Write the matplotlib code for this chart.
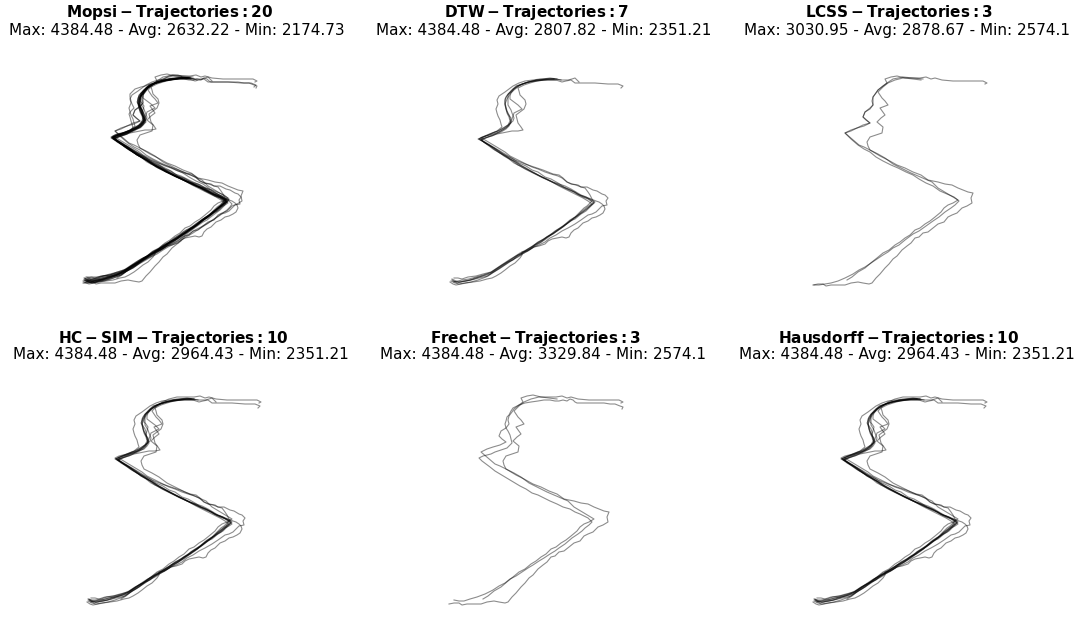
import matplotlib.pyplot as plt

# GPS trajectories (local x/y, same frame for every panel)
T01 = [(2, 5), (7, 2), (14, 4), (20, 5), (25, 7), (33, 9), (40, 11), (46, 15), (52, 19), (58, 23), (63, 25),
       (68, 30), (74, 33), (80, 36), (85, 40), (91, 43), (97, 48), (103, 51), (108, 55), (114, 59), (120, 64),
       (125, 66), (131, 71), (136, 74), (141, 79), (145, 83), (140, 86), (134, 88), (127, 91), (121, 95),
       (114, 98), (108, 102), (101, 106), (95, 108), (88, 113), (82, 115), (76, 119), (69, 122), (63, 126),
       (57, 129), (50, 133), (44, 137), (37, 141), (29, 146), (36, 149), (43, 151), (49, 153), (56, 157),
       (61, 162), (61, 167), (58, 171), (56, 176), (55, 181), (57, 186), (60, 191), (64, 196), (70, 200),
       (78, 203), (87, 205), (96, 205), (106, 205), (112, 203), (116, 204), (121, 205), (125, 202), (133, 202),
       (145, 202), (158, 201), (168, 201), (173, 199), (171, 197)]
T02 = [(0, 1), (5, 2), (10, 2), (13, 0), (18, 1), (25, 1), (32, 1), (38, 3), (45, 4), (50, 3), (56, 2), (59, 3),
       (63, 8), (67, 12), (72, 18), (76, 22), (80, 27), (84, 30), (89, 36), (94, 40), (98, 43), (102, 48),
       (106, 49), (110, 53), (115, 54), (120, 58), (125, 62), (131, 64), (135, 69), (139, 71), (144, 73),
       (149, 78), (154, 80), (159, 83), (158, 88), (160, 93), (155, 94), (150, 96), (145, 98), (139, 101),
       (132, 102), (125, 104), (115, 106), (108, 111), (100, 114), (92, 118), (84, 121), (75, 126), (67, 130),
       (57, 136), (51, 139), (46, 141), (39, 147), (32, 153), (38, 156), (44, 158), (51, 160), (57, 163),
       (53, 166), (50, 169), (52, 174), (57, 177), (60, 181), (59, 185), (60, 189), (63, 193), (65, 196),
       (70, 200), (74, 203), (72, 207), (78, 209), (84, 210), (92, 208), (100, 207), (108, 206)]
T03 = [(34, 6), (39, 9), (45, 14), (52, 18), (59, 24), (64, 28), (70, 33), (76, 36), (82, 41), (87, 44),
       (92, 48), (97, 51), (102, 56), (107, 58), (112, 62), (117, 65), (122, 69), (128, 74), (131, 78),
       (135, 81), (140, 83), (145, 86), (140, 89), (135, 92), (130, 95), (125, 98), (119, 104), (112, 107),
       (105, 110), (98, 113), (92, 116), (86, 119), (80, 122), (76, 125), (72, 128), (65, 132), (57, 136),
       (55, 140), (54, 144), (57, 149), (63, 151), (69, 153), (70, 159), (64, 164), (68, 168), (72, 171),
       (67, 178), (75, 181), (72, 185), (69, 188), (65, 194), (70, 199), (75, 203), (82, 206), (90, 208),
       (98, 208), (107, 208), (113, 209), (118, 207), (122, 208), (129, 206), (140, 205), (150, 205),
       (160, 205), (170, 205), (174, 203), (172, 202)]
T04 = [(1, 1), (6, 1), (12, 2), (18, 3), (25, 5), (32, 8), (40, 12), (46, 16), (52, 19), (58, 23), (64, 27),
       (70, 31), (75, 34), (80, 38), (86, 41), (92, 46), (100, 52), (106, 55), (113, 60), (120, 65), (126, 69),
       (132, 74), (138, 78), (142, 81), (146, 85), (141, 89), (134, 92), (127, 95), (120, 100), (113, 103),
       (106, 107), (100, 111), (93, 114), (85, 118), (78, 121), (70, 125), (63, 129), (57, 134), (51, 137),
       (45, 141), (38, 147), (32, 153), (38, 155), (44, 158), (50, 161), (57, 163), (50, 169), (52, 174),
       (57, 178), (60, 181), (60, 189), (65, 196), (70, 200), (74, 203), (80, 207), (90, 209), (100, 208),
       (110, 207)]
T05 = [(3, 7), (8, 5), (15, 6), (21, 8), (27, 9), (34, 12), (41, 14), (47, 18), (53, 22), (58, 25), (64, 28),
       (69, 32), (75, 35), (80, 39), (86, 42), (91, 46), (97, 49), (103, 54), (109, 57), (114, 61), (120, 65),
       (126, 69), (131, 73), (136, 77), (140, 80), (143, 84), (138, 87), (131, 90), (125, 92), (118, 96),
       (111, 99), (104, 103), (98, 106), (91, 109), (85, 113), (78, 116), (72, 119), (66, 122), (60, 126),
       (54, 129), (47, 134), (41, 138), (35, 142), (30, 147), (36, 149), (41, 150), (47, 152), (53, 155),
       (58, 158), (62, 162), (63, 166), (60, 172), (58, 177), (57, 182), (57, 188), (61, 192), (64, 196),
       (71, 200), (79, 203), (88, 205), (98, 206), (106, 206)]
T06 = [(1, 4), (5, 2), (9, 1), (15, 2), (21, 3), (28, 5), (36, 8), (42, 12), (49, 16), (55, 20), (61, 24),
       (67, 28), (72, 31), (78, 34), (84, 38), (89, 40), (95, 43), (100, 47), (106, 50), (112, 54), (118, 57),
       (125, 61), (131, 65), (138, 70), (142, 71), (146, 73), (149, 76), (152, 79), (157, 80), (156, 84),
       (158, 87), (155, 90), (152, 91), (147, 94), (143, 95), (137, 98), (131, 98), (126, 100), (121, 101),
       (117, 103), (112, 107), (108, 109), (101, 111), (95, 113), (88, 116), (82, 118), (76, 121), (70, 124),
       (64, 127), (60, 129), (55, 133), (50, 136), (45, 139), (40, 142), (35, 145), (31, 147), (36, 149),
       (40, 151), (45, 153), (48, 154), (53, 157), (58, 160), (63, 164), (64, 167), (62, 172), (61, 175),
       (58, 180), (58, 185), (58, 190), (61, 194), (63, 196), (68, 199), (72, 201), (79, 203), (86, 205),
       (93, 206), (100, 207), (107, 206)]
T07 = [(4, 3), (8, 4), (12, 5), (19, 6), (26, 8), (33, 10), (42, 13), (48, 17), (54, 21), (60, 25), (66, 29),
       (72, 32), (78, 36), (83, 39), (88, 43), (94, 46), (100, 50), (105, 54), (110, 57), (116, 61), (121, 65),
       (127, 69), (131, 73), (136, 77), (140, 80), (142, 81), (138, 84), (133, 87), (127, 90), (121, 93),
       (115, 96), (109, 99), (102, 103), (96, 106), (90, 109), (83, 113), (77, 116), (72, 119), (66, 123),
       (60, 126), (56, 129), (50, 132), (45, 136), (39, 140), (34, 143), (28, 146), (33, 148), (37, 150),
       (42, 152), (47, 154), (52, 158), (51, 161), (50, 165), (48, 169), (47, 172), (46, 176), (48, 181),
       (47, 185), (49, 189), (52, 191), (55, 193), (59, 196), (63, 199), (69, 202), (75, 204), (83, 205),
       (90, 206), (97, 206), (104, 206)]
T08 = [(2, 6), (6, 4), (9, 3), (15, 4), (21, 5), (29, 7), (38, 9), (44, 13), (50, 17), (56, 21), (62, 25),
       (68, 28), (74, 32), (79, 35), (85, 39), (90, 42), (96, 46), (101, 50), (104, 52), (110, 56), (115, 60),
       (118, 62), (124, 67), (131, 72), (135, 75), (139, 78), (144, 82), (141, 84), (138, 86), (133, 88),
       (129, 90), (125, 93), (120, 95), (113, 98), (106, 101), (100, 104), (93, 107), (87, 110), (81, 113),
       (75, 116), (70, 119), (64, 122), (59, 126), (54, 129), (50, 132), (45, 135), (40, 139), (35, 142),
       (31, 145), (36, 147), (41, 149), (47, 151), (52, 152), (57, 153), (62, 154), (68, 154), (73, 155),
       (71, 158), (68, 162), (67, 166), (66, 170), (70, 173), (74, 176), (76, 181), (75, 185), (72, 188),
       (70, 190), (69, 194), (68, 197), (74, 200), (80, 202), (87, 204), (95, 205), (100, 206), (105, 206),
       (112, 205), (118, 205), (122, 206), (125, 207), (129, 203)]
T09 = [(5, 5), (10, 4), (15, 4), (21, 6), (28, 8), (36, 11), (44, 15), (50, 19), (56, 22), (61, 26), (67, 29),
       (73, 33), (79, 37), (84, 40), (90, 44), (95, 47), (101, 51), (106, 54), (110, 57), (116, 61), (123, 67),
       (129, 71), (133, 74), (136, 77), (140, 80), (143, 83), (139, 87), (135, 89), (131, 91), (126, 93),
       (121, 96), (114, 98), (108, 101), (101, 104), (95, 107), (89, 110), (83, 112), (77, 116), (71, 119),
       (66, 122), (61, 125), (56, 128), (51, 131), (46, 134), (41, 138), (37, 141), (33, 144), (30, 147),
       (34, 149), (38, 150), (42, 151), (46, 153), (52, 155), (58, 157), (63, 162), (62, 166), (61, 170),
       (59, 174), (57, 177), (56, 181), (57, 184), (58, 188), (60, 190), (62, 194), (64, 197), (70, 200),
       (76, 202), (82, 203), (89, 204), (95, 205), (101, 205), (106, 204), (110, 204), (114, 205), (118, 204),
       (121, 206), (124, 205), (126, 203), (128, 202), (134, 202), (140, 202), (147, 202), (155, 202),
       (161, 201), (166, 201), (171, 199), (174, 198), (173, 196)]
T10 = [(0, 3), (3, 1), (6, 0), (11, 1), (16, 2), (23, 3), (30, 4), (37, 6), (42, 7), (46, 9), (51, 12), (55, 15),
       (60, 19), (65, 22), (70, 27), (72, 30), (72, 33), (77, 34), (84, 38), (89, 39), (95, 41), (98, 44),
       (102, 46), (107, 47), (112, 48), (116, 47), (119, 48), (121, 52), (124, 55), (128, 57), (133, 62),
       (138, 64), (142, 67), (146, 68), (150, 70), (153, 72), (155, 76), (154, 79), (152, 81), (149, 83),
       (146, 84), (141, 86), (136, 88), (131, 90), (126, 93), (121, 96), (115, 99), (109, 101), (103, 103),
       (97, 106), (92, 108), (86, 111), (80, 114), (74, 117), (68, 120), (63, 124), (58, 127), (53, 130),
       (48, 133), (43, 136), (39, 139), (35, 142), (31, 145), (35, 147), (38, 148), (42, 149), (46, 151),
       (51, 153), (56, 156), (59, 159), (61, 163), (60, 167), (59, 170), (57, 174), (56, 178), (55, 182),
       (55, 186), (57, 189), (59, 192), (62, 195), (66, 199), (72, 201), (78, 203), (85, 204), (92, 205),
       (98, 206), (104, 206)]
T11 = [(3, 4), (7, 3), (11, 3), (17, 4), (24, 6), (32, 9), (40, 12), (46, 16), (52, 20), (59, 24), (65, 28),
       (71, 31), (77, 35), (82, 38), (88, 42), (93, 45), (99, 49), (104, 52), (107, 54), (113, 58), (118, 62),
       (121, 64), (126, 68), (130, 71), (133, 73), (137, 76), (140, 79), (144, 83), (142, 86), (140, 90),
       (138, 93), (135, 97), (131, 98), (128, 100), (122, 101), (117, 103), (113, 107), (109, 110), (103, 111),
       (98, 113), (93, 115), (87, 117), (81, 119), (75, 121), (70, 123), (65, 125), (60, 128), (55, 131),
       (50, 134), (45, 137), (40, 140), (35, 143), (29, 146), (32, 148), (35, 149), (39, 150), (43, 152),
       (48, 154), (54, 157), (58, 160), (60, 164), (59, 168), (57, 172), (56, 176), (55, 180), (55, 184),
       (56, 188), (58, 191), (61, 193), (64, 196), (67, 199), (73, 201), (80, 203), (87, 204), (94, 205),
       (100, 205), (106, 205)]
T12 = [(2, 4), (6, 2), (10, 1), (16, 3), (22, 5), (30, 8), (38, 11), (44, 14), (50, 18), (57, 23), (62, 26),
       (68, 30), (75, 34), (80, 37), (86, 41), (92, 44), (98, 48), (103, 52), (106, 54), (112, 58), (119, 64),
       (124, 67), (128, 70), (132, 73), (136, 77), (140, 80), (143, 82), (137, 86), (132, 88), (127, 91),
       (122, 93), (117, 96), (110, 99), (104, 102), (98, 105), (91, 108), (85, 111), (79, 114), (73, 117),
       (68, 121), (63, 124), (58, 127), (53, 130), (48, 134), (43, 137), (38, 140), (34, 143), (30, 146),
       (33, 147), (36, 148), (40, 149), (44, 150), (47, 153), (50, 156), (49, 160), (48, 163), (47, 167),
       (46, 170), (48, 173), (51, 176), (49, 180), (48, 183), (47, 187), (47, 190), (50, 193), (52, 195),
       (55, 196), (58, 197), (62, 198), (67, 200), (73, 202), (79, 204), (87, 205), (95, 206), (101, 206),
       (106, 206)]
T13 = [(4, 7), (8, 7), (12, 6), (18, 8), (26, 9), (33, 11), (41, 13), (47, 17), (53, 21), (59, 25), (64, 28),
       (70, 32), (76, 35), (81, 38), (87, 42), (92, 45), (98, 49), (103, 52), (107, 55), (113, 59), (120, 65),
       (125, 68), (128, 71), (131, 74), (134, 77), (137, 79), (142, 84), (139, 86), (136, 88), (130, 90),
       (124, 93), (119, 95), (113, 98), (107, 101), (100, 104), (94, 107), (88, 110), (82, 113), (76, 117),
       (70, 120), (64, 124), (59, 127), (54, 130), (49, 134), (44, 137), (39, 140), (34, 143), (31, 146),
       (35, 147), (40, 149), (45, 151), (49, 153), (54, 156), (58, 159), (60, 162), (62, 166), (63, 169),
       (64, 172), (68, 174), (72, 176), (70, 178), (68, 180), (64, 183), (60, 186), (60, 189), (61, 192),
       (64, 195), (69, 199), (75, 202), (82, 204), (89, 205), (96, 206), (101, 206), (106, 206), (111, 205)]
T14 = [(1, 6), (4, 5), (8, 5), (14, 6), (20, 8), (27, 9), (35, 11), (42, 14), (48, 18), (54, 21), (60, 24),
       (66, 28), (71, 31), (77, 34), (82, 37), (88, 41), (93, 44), (98, 47), (102, 50), (108, 54), (113, 58),
       (116, 60), (121, 64), (125, 67), (129, 70), (134, 73), (138, 77), (142, 79), (145, 81), (143, 83),
       (141, 85), (137, 87), (133, 89), (128, 91), (123, 94), (117, 97), (110, 100), (103, 103), (97, 106),
       (91, 109), (85, 112), (79, 115), (73, 118), (68, 121), (62, 125), (57, 128), (52, 131), (47, 134),
       (42, 138), (37, 141), (33, 144), (28, 147), (32, 149), (36, 150), (41, 151), (46, 152), (51, 154),
       (57, 156), (60, 159), (62, 162), (61, 166), (59, 169), (59, 173), (58, 176), (56, 179), (54, 182),
       (56, 186), (58, 189), (60, 192), (63, 195), (67, 198), (73, 201), (79, 203), (86, 204), (93, 205),
       (100, 206), (107, 206)]
T15 = [(3, 2), (8, 2), (13, 3), (20, 4), (27, 6), (35, 9), (44, 13), (50, 16), (56, 20), (63, 24), (68, 27),
       (74, 30), (80, 34), (85, 37), (91, 40), (97, 43), (103, 47), (110, 51), (116, 55), (124, 60), (130, 64),
       (136, 68), (140, 71), (144, 74), (147, 77), (149, 80), (147, 82), (145, 84), (141, 86), (138, 88),
       (133, 91), (128, 94), (122, 96), (117, 99), (110, 102), (104, 105), (98, 108), (92, 110), (86, 114),
       (80, 117), (75, 120), (69, 123), (64, 126), (59, 129), (54, 132), (49, 135), (44, 138), (39, 141),
       (34, 144), (30, 147), (35, 149), (39, 150), (43, 152), (47, 154), (52, 157), (56, 159), (59, 163),
       (60, 167), (59, 171), (58, 174), (57, 178), (56, 183), (57, 187), (60, 190), (63, 194), (66, 197),
       (71, 200), (78, 202), (85, 204), (92, 205), (99, 206), (105, 206)]
T16 = [(2, 5), (5, 4), (9, 4), (15, 5), (21, 7), (28, 8), (36, 10), (43, 14), (49, 18), (56, 22), (61, 26),
       (67, 29), (73, 33), (78, 36), (84, 40), (90, 43), (95, 46), (101, 50), (104, 53), (110, 56), (118, 63),
       (123, 66), (127, 69), (130, 72), (134, 75), (139, 79), (141, 82), (143, 84), (139, 86), (135, 88),
       (130, 90), (124, 93), (119, 96), (113, 98), (107, 101), (100, 104), (94, 107), (88, 110), (82, 113),
       (76, 116), (71, 119), (65, 123), (60, 126), (54, 129), (49, 133), (44, 136), (39, 139), (34, 142),
       (30, 145), (34, 147), (38, 149), (41, 150), (44, 152), (50, 154), (55, 157), (58, 160), (61, 163),
       (60, 167), (59, 171), (60, 174), (61, 178), (59, 181), (57, 183), (57, 187), (58, 190), (61, 193),
       (64, 196), (69, 199), (74, 201), (81, 203), (88, 205), (95, 206), (102, 206), (108, 205)]
T17 = [(5, 6), (9, 7), (14, 7), (20, 8), (27, 10), (35, 12), (43, 15), (49, 19), (55, 23), (60, 26), (66, 29),
       (72, 33), (77, 36), (83, 40), (88, 43), (94, 46), (99, 50), (104, 53), (108, 56), (114, 59), (119, 63),
       (122, 66), (128, 70), (132, 73), (134, 75), (138, 78), (141, 81), (144, 84), (141, 86), (139, 88),
       (134, 90), (129, 92), (124, 95), (118, 97), (112, 100), (106, 102), (100, 105), (93, 108), (87, 111),
       (81, 115), (76, 118), (70, 121), (65, 124), (60, 127), (55, 130), (50, 133), (45, 137), (40, 140),
       (35, 143), (31, 146), (34, 147), (38, 149), (42, 150), (47, 152), (52, 155), (57, 157), (60, 160),
       (62, 164), (61, 168), (60, 172), (58, 176), (56, 180), (56, 184), (57, 187), (59, 190), (62, 193),
       (65, 196), (68, 199), (74, 202), (80, 204), (84, 207), (86, 208), (90, 209), (95, 209), (98, 208),
       (100, 206), (104, 206), (108, 206), (111, 205), (114, 204)]
T18 = [(1, 4), (4, 3), (8, 3), (13, 4), (19, 5), (26, 7), (34, 9), (40, 13), (47, 17), (53, 21), (59, 25),
       (65, 28), (72, 33), (77, 36), (83, 40), (89, 43), (94, 46), (99, 50), (104, 53), (110, 57), (118, 63),
       (123, 66), (127, 69), (129, 71), (133, 74), (137, 78), (141, 83), (137, 86), (132, 88), (126, 91),
       (121, 94), (116, 97), (110, 100), (103, 103), (97, 106), (90, 109), (84, 112), (79, 115), (73, 118),
       (67, 122), (62, 125), (57, 128), (52, 131), (47, 134), (42, 137), (37, 141), (33, 144), (29, 147),
       (33, 148), (36, 150), (40, 151), (45, 153), (50, 155), (55, 158), (58, 161), (61, 165), (60, 169),
       (58, 173), (57, 177), (55, 181), (55, 185), (56, 189), (59, 192), (61, 194), (65, 197), (69, 200),
       (75, 202), (82, 204), (89, 205), (96, 206), (102, 206), (107, 206)]
T19 = [(4, 4), (8, 3), (12, 2), (18, 4), (25, 6), (32, 8), (40, 11), (46, 15), (53, 19), (59, 23), (64, 27),
       (70, 30), (77, 34), (82, 38), (88, 42), (93, 45), (99, 49), (104, 52), (107, 55), (113, 58), (120, 64),
       (125, 67), (129, 70), (132, 73), (137, 77), (141, 80), (144, 82), (146, 84), (143, 86), (141, 87),
       (136, 89), (131, 92), (126, 95), (121, 97), (115, 100), (108, 102), (102, 105), (95, 108), (89, 111),
       (83, 114), (78, 117), (72, 120), (67, 123), (61, 127), (56, 130), (51, 133), (46, 136), (41, 139),
       (37, 142), (32, 145), (30, 148), (34, 150), (38, 151), (43, 152), (47, 153), (52, 156), (57, 158),
       (60, 161), (62, 165), (60, 168), (58, 172), (57, 175), (56, 179), (57, 183), (58, 187), (59, 190),
       (60, 193), (63, 196), (66, 199), (72, 201), (79, 203), (86, 204), (93, 205), (99, 206), (104, 206)]
T20 = [(2, 3), (6, 2), (10, 2), (16, 3), (23, 4), (30, 6), (38, 9), (44, 13), (50, 16), (57, 21), (63, 25),
       (69, 28), (75, 32), (80, 35), (86, 39), (92, 42), (97, 45), (102, 49), (106, 52), (113, 57), (120, 62),
       (124, 64), (129, 68), (133, 71), (137, 74), (141, 78), (144, 82), (140, 85), (136, 87), (130, 90),
       (125, 93), (120, 95), (114, 98), (107, 101), (101, 104), (94, 107), (88, 110), (82, 113), (77, 116),
       (71, 119), (66, 122), (61, 125), (56, 128), (51, 131), (46, 135), (41, 138), (37, 141), (32, 144),
       (29, 147), (33, 149), (37, 150), (41, 151), (45, 152), (50, 155), (55, 157), (58, 160), (61, 164),
       (61, 168), (59, 172), (58, 175), (56, 179), (57, 182), (57, 186), (59, 189), (61, 192), (63, 195),
       (66, 198), (72, 201), (78, 203), (85, 204), (92, 205), (99, 206), (105, 206)]

trajectories = [T01, T02, T03, T04, T05, T06, T07, T08, T09, T10,
                T11, T12, T13, T14, T15, T16, T17, T18, T19, T20]

methods = ["Mopsi", "DTW", "LCSS", "HC-SIM", "Frechet", "Hausdorff"]
members = [
    list(range(20)),
    [0, 5, 6, 7, 9, 10, 12],
    [1, 2, 3],
    [0, 2, 5, 6, 7, 9, 10, 12, 13, 15],
    [1, 2, 8],
    [0, 2, 5, 6, 7, 9, 10, 12, 13, 15],
]
max_len = ["4384.48", "4384.48", "3030.95", "4384.48", "4384.48", "4384.48"]
avg_len = ["2632.22", "2807.82", "2878.67", "2964.43", "3329.84", "2964.43"]
min_len = ["2174.73", "2351.21", "2574.1", "2351.21", "2574.1", "2351.21"]

W, H = 1087, 617
fig = plt.figure(figsize=(W / 100, H / 100), dpi=100)

xlim = (-1, 175)
ylim = (-2, 212)
# pixel position of the (0, 0) point of each panel
origins = [(83, 284), (450, 285), (813, 286), (87, 605), (449, 605), (813, 605)]
title_y = [(13, 30), (13, 30), (13, 30), (338, 355), (338, 355), (338, 355)]

for i, name in enumerate(methods):
    ox, oy = origins[i]
    left = (ox + xlim[0]) / W
    bottom = (H - oy - (0 - ylim[0])) / H
    ax = fig.add_axes([left, bottom, (xlim[1] - xlim[0]) / W, (ylim[1] - ylim[0]) / H])
    for k in members[i]:
        xs, ys = zip(*trajectories[k])
        ax.plot(xs, ys, color="black", lw=0.8, alpha=0.45)
    ax.set_xlim(*xlim)
    ax.set_ylim(*ylim)
    ax.axis("off")

    cx = (ox + 86) / W
    bold = r"$\bf{" + name.replace("-", " - ") + r" - Trajectories: " + str(len(members[i])) + "}$"
    fig.text(cx, 1 - title_y[i][0] / H, bold, ha="center", va="center", fontsize=11)
    fig.text(cx + 8 / W, 1 - title_y[i][1] / H,
             "Max: %s - Avg: %s - Min: %s" % (max_len[i], avg_len[i], min_len[i]),
             ha="center", va="center", fontsize=11)

fig.savefig("out.png", dpi=100)
